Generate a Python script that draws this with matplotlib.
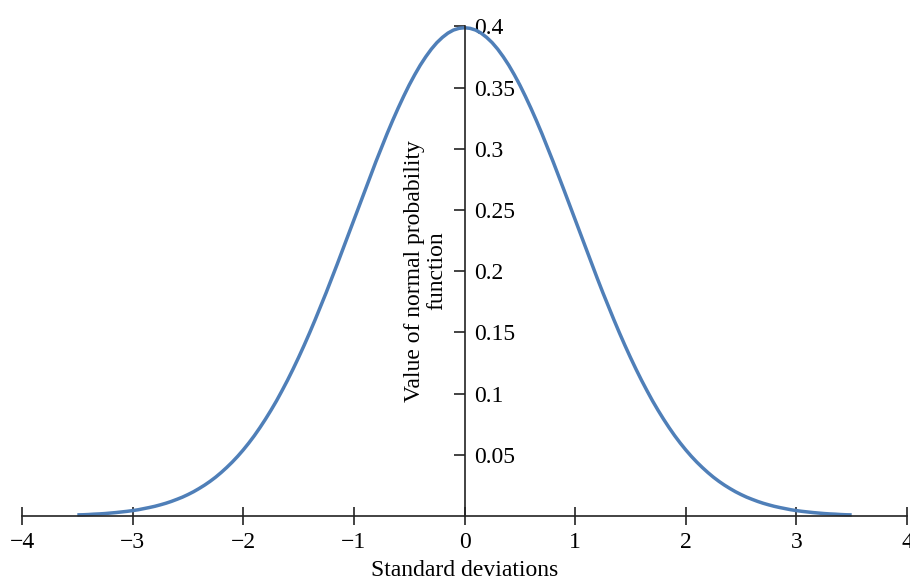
import matplotlib.pyplot as plt
import numpy as np

plt.rcParams['font.family'] = ['Liberation Serif', 'DejaVu Serif']

# Curve values, right half (0 to 3.5 SD, steps of 0.05);
# the curve is symmetric, so the left half is the same list mirrored
half_sd = np.round(np.arange(0, 71) * 0.05, 2)
half_density = [
    0.3989, 0.3984, 0.3970, 0.3945, 0.3910, 0.3867, 0.3814, 0.3752, 0.3683, 0.3605,
    0.3521, 0.3429, 0.3332, 0.3230, 0.3123, 0.3011, 0.2897, 0.2780, 0.2661, 0.2541,
    0.2420, 0.2299, 0.2179, 0.2059, 0.1942, 0.1826, 0.1714, 0.1604, 0.1497, 0.1394,
    0.1295, 0.1200, 0.1109, 0.1023, 0.0940, 0.0863, 0.0790, 0.0721, 0.0656, 0.0596,
    0.0540, 0.0488, 0.0440, 0.0396, 0.0355, 0.0317, 0.0283, 0.0252, 0.0224, 0.0198,
    0.0175, 0.0154, 0.0136, 0.0119, 0.0104, 0.0091, 0.0079, 0.0069, 0.0060, 0.0051,
    0.0044, 0.0038, 0.0033, 0.0028, 0.0024, 0.0020, 0.0017, 0.0015, 0.0012, 0.0010,
    0.0009,
]
sd = np.concatenate([-half_sd[:0:-1], half_sd])
density = half_density[:0:-1] + half_density

x_ticks = [-4, -3, -2, -1, 0, 1, 2, 3, 4]
y_ticks = [0.05, 0.1, 0.15, 0.2, 0.25, 0.3, 0.35, 0.4]
y_labels = ['0.05', '0.1', '0.15', '0.2', '0.25', '0.3', '0.35', '0.4']

fig = plt.figure(figsize=(9.1, 5.81), dpi=100)
ax = fig.add_axes([0.0242, 0.1119, 0.9725, 0.8427])

ax.plot(sd, density, color='#4f7fb8', lw=2.5, clip_on=False, solid_capstyle='butt')

ax.set_xlim(-4, 4)
ax.set_ylim(0, 0.4)

# spines: bottom at y=0, vertical axis through x=0
ax.spines['top'].set_visible(False)
ax.spines['left'].set_visible(False)
ax.spines['right'].set_position(('data', 0))
ax.spines['bottom'].set_position(('data', 0))
for s in ['right', 'bottom']:
    ax.spines[s].set_linewidth(1.2)
    ax.spines[s].set_color('#222222')

ax.yaxis.tick_right()
ax.set_xticks(x_ticks)
ax.set_xticklabels(['\u2212' + str(-v) if v < 0 else str(v) for v in x_ticks])
ax.set_yticks(y_ticks)
ax.set_yticklabels(y_labels)
ax.tick_params(axis='x', direction='inout', length=13, width=1.2, labelsize=17, pad=5,
               color='#222222')
ax.tick_params(axis='y', direction='in', length=8, width=1.2, labelsize=17, pad=7,
               color='#222222')

ax.set_xlabel('Standard deviations', fontsize=17, labelpad=5)
ax.text(-0.35, 0.2, 'Value of normal probability\nfunction', rotation=90,
        ha='center', va='center', multialignment='center', fontsize=17,
        linespacing=1.05)

fig.savefig('out.png', dpi=100)
